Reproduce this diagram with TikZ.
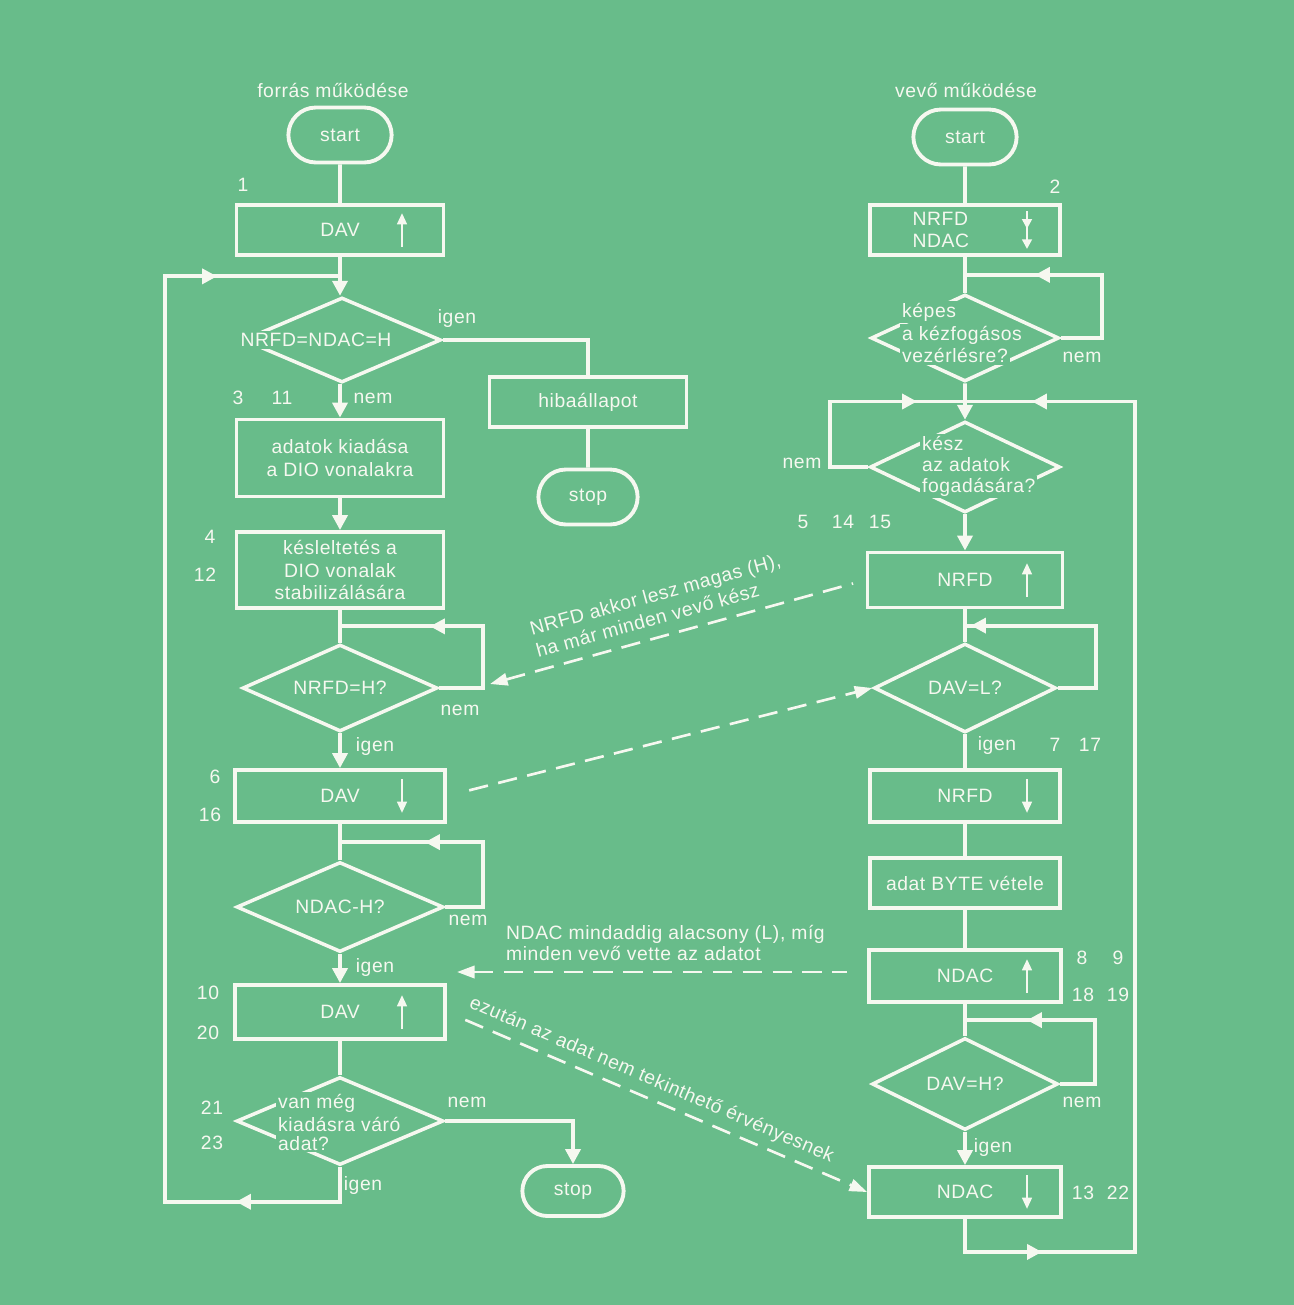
\documentclass[tikz,border=0pt]{standalone}
\usepackage{fontspec}
\setmainfont{Liberation Sans}[LetterSpace=3]
\usetikzlibrary{arrows.meta,shapes.geometric,shapes.misc,decorations.markings,calc}

\definecolor{lapzold}{RGB}{104,188,138}
\definecolor{kreta}{RGB}{246,248,240}
\setlength{\fboxsep}{1pt}
\newcommand{\fed}[1]{\colorbox{lapzold}{#1}}

\begin{document}
\begin{tikzpicture}[x=0.02cm, y=-0.02cm,
		every node/.style={font=\fontsize{11}{13}\selectfont, text=kreta},
		vonal/.style={color=kreta, line width=2.2pt},
		nyil/.style={vonal, -{Triangle[length=8.5pt,width=8.5pt]}},
		hegy/.style={postaction={decorate, decoration={markings,
			mark=at position #1 with {\arrow{Triangle[length=8.5pt,width=8.5pt]}}}}},
		doboz/.style={draw=kreta, line width=2.2pt, minimum width=4.14cm, minimum height=1cm, align=center},
		hatar/.style={rounded rectangle, draw=kreta, line width=2.2pt, minimum width=2.3cm, minimum height=1.1cm},
		dontes/.style={diamond, draw=kreta, line width=2pt, inner sep=0pt, minimum width=4cm, minimum height=1.76cm},
		dszoveg/.style={inner sep=0pt, align=left},
		jel/.style={color=kreta, line width=1.4pt, -{Triangle[length=6.5pt,width=5.5pt]}},
		szaggatott/.style={color=kreta, line width=1.5pt, dash pattern=on 11pt off 6pt}]

	\fill[lapzold] (0,0) rectangle (1294,1305);

	% cimek
	\node (cim1) at (333,90) {forrás működése};
	\node (cim2) at (966,90) {vevő működése};

	% forras oldal
	\node[hatar] (start1) at (340,135) {start};
	\node[doboz] (dav1) at (340,230) {DAV};
	\node[dontes, minimum width=3.96cm, minimum height=1.7cm] (d1) at (342,340) {};
	\node[dszoveg] (t1) at (316,340) {\fed{NRFD=NDAC=H}};
	\node[doboz, minimum width=3.94cm] (hiba) at (588,402) {hibaállapot};
	\node[hatar, minimum width=2.22cm] (stop1) at (588,497) {stop};
	\node[doboz, minimum height=1.54cm] (box2) at (340,458) {adatok kiadása\\a DIO vonalakra};
	\node[doboz, minimum height=1.52cm] (box3) at (340,570) {késleltetés a\\DIO vonalak\\stabilizálására};
	\node[dontes, minimum width=3.9cm, minimum height=1.74cm] (d2) at (340,688) {};
	\node (t2) at (d2) {NRFD=H?};
	\node[doboz, minimum width=4.2cm, minimum height=1.04cm] (dav2) at (340,796) {DAV};
	\node[dontes, minimum width=4.14cm, minimum height=1.8cm] (d3) at (340,907) {};
	\node (t3) at (d3) {NDAC-H?};
	\node[doboz, minimum width=4.2cm, minimum height=1.08cm] (dav3) at (340,1012) {DAV};
	\node[dontes, minimum width=4.14cm, minimum height=1.76cm] (d4) at (340,1121) {};
	\node[dszoveg, anchor=west, font=\fontsize{11}{10.5}\selectfont] (t4) at (276,1122) {\fed{van még}\\\fed{kiadásra váró}\\\fed{adat?}};
	\node[hatar, minimum width=2.26cm, minimum height=1cm] (stop2) at (573,1191) {stop};

	\coordinate (j1) at ($(dav1.south)!.5!(d1.north)$);
	\coordinate (j2) at ($(box3.south)!.5!(d2.north)$);
	\coordinate (j3) at ($(dav2.south)!.5!(d3.north)$);

	\draw[vonal] (start1) -- (dav1);
	\draw[nyil] (dav1) -- (dav1 |- d1.north);
	\draw[vonal] (d1.east) -| (hiba.north);
	\draw[vonal] (hiba) -- (stop1);
	\draw[nyil] (d1.south -| box2) -- (box2);
	\draw[nyil] (box2) -- (box3);
	\draw[vonal] (box3) -- (d2);
	\draw[vonal, hegy=-1.8cm] (d2.east) -- ++(44,0) |- (j2);
	\draw[nyil] (d2) -- (dav2);
	\draw[vonal] (dav2) -- (d3);
	\draw[vonal, hegy=-1.7cm] (d3.east) -- ++(38,0) |- (j3);
	\draw[nyil] (d3) -- (dav3);
	\draw[vonal] (dav3) -- (d4);
	\draw[nyil] (d4.east) -| (stop2.north);
	\draw[vonal, hegy=2.78cm, hegy=-2.48cm] (d4.south) -- ++(0,35) -- ++(-175,0) |- (j1);

	% vevo oldal
	\node[hatar] (start2) at (965,137) {start};
	\node[doboz, minimum width=3.8cm, align=left] (rbox) at (965,230) {NRFD\hspace*{2.5em}\\NDAC\hspace*{2.5em}};
	\node[dontes, minimum width=3.76cm, minimum height=1.74cm] (rd1) at (965,338) {};
	\node[dszoveg, anchor=west] (t5) at (900,333) {\fed{képes}\\\fed{a kézfogásos}\\\fed{vezérlésre?}};
	\node[dontes, minimum width=3.8cm, minimum height=1.82cm] (rd2) at (965,467) {};
	\node[dszoveg, anchor=west, font=\fontsize{11}{12}\selectfont] (t6) at (920,466) {\fed{kész}\\\fed{az adatok}\\\fed{fogadására?}};
	\node[doboz, minimum width=3.9cm, minimum height=1.1cm] (nrfdup) at (965,580) {NRFD};
	\node[dontes, minimum width=3.64cm, minimum height=1.78cm] (rd3) at (965,688) {};
	\node (t7) at (rd3) {DAV=L?};
	\node[doboz, minimum width=3.8cm, minimum height=1.04cm] (nrfddn) at (965,796) {NRFD};
	\node[doboz, minimum width=3.8cm] (byte) at (965,883) {adat BYTE vétele};
	\node[doboz, minimum width=3.84cm, minimum height=1.04cm] (ndacup) at (965,976) {NDAC};
	\node[dontes, minimum width=3.72cm, minimum height=1.84cm] (rd4) at (965,1084) {};
	\node (t8) at (rd4) {DAV=H?};
	\node[doboz, minimum width=3.84cm] (ndacdn) at (965,1192) {NDAC};

	\coordinate (k1) at ($(rbox.south)!.5!(rd1.north)$);
	\coordinate (k2) at ($(rd1.south)!.5!(rd2.north)$);
	\coordinate (k3) at ($(nrfdup.south)!.5!(rd3.north)$);
	\coordinate (k4) at ($(ndacup.south)!.5!(rd4.north)$);

	\draw[vonal] (start2) -- (rbox);
	\draw[vonal] (rbox) -- (rd1);
	\draw[vonal, hegy=-1.4cm] (rd1.east) -- ++(41,0) |- (k1);
	\draw[vonal] (rd1) -- (k2);
	\draw[nyil] (k2) -- (rd2);
	\draw[vonal, hegy=-0.96cm] (rd2.west) -- ++(-38,0) |- (k2);
	\draw[nyil] (rd2) -- (nrfdup);
	\draw[vonal] (nrfdup) -- (rd3);
	\draw[vonal, hegy=-0.12cm] (rd3.east) -- ++(38,0) |- (k3);
	\draw[vonal] (rd3) -- (nrfddn);
	\draw[vonal] (nrfddn) -- (byte);
	\draw[vonal] (byte) -- (ndacup);
	\draw[vonal] (ndacup) -- (rd4);
	\draw[vonal, hegy=-1.24cm] (rd4.east) -- ++(35,0) |- (k4);
	\draw[nyil] (rd4) -- (ndacdn);
	\draw[vonal, hegy=2.2cm, hegy=-1.34cm] (ndacdn.south) -- ++(0,33) -- ++(170,0) |- (k2);

	% jelszintek a dobozokban
	\foreach \n/\d in {dav1/-1, dav2/1, dav3/-1, nrfdup/-1, nrfddn/1, ndacup/-1, ndacdn/1}
		\draw[jel] ($(\n.center)+(62,-17*\d)$) -- ++(0,34*\d);
	\draw[color=kreta, line width=1.4pt, -{Triangle[length=5.5pt,width=5.5pt,sep=6pt]Triangle[length=5.5pt,width=5.5pt]}]
		($(rbox.center)+(62,-19)$) -- ++(0,38);

	% szaggatott kapcsolatok
	\coordinate (c1) at (490,684);
	\draw[szaggatott, {Triangle[length=10pt,width=7pt]}-, shorten >=0.26cm] (c1) --
		node[pos=.47, above=3pt, sloped, align=left] (s1) {NRFD akkor lesz magas (H),\\ha már minden vevő kész} (nrfdup.west);
	\draw[szaggatott, -{Triangle[length=10pt,width=7pt]}, shorten <=0.46cm] (dav2.east) -- (rd3.west);
	\coordinate (c2) at (457,972);
	\draw[szaggatott, {Triangle[length=10pt,width=7pt]}-, shorten >=0.4cm] (c2) -- (c2 -| ndacup.west);
	\node[anchor=west, align=left, font=\fontsize{11}{11.5}\selectfont] (s3) at (500,943) {NDAC mindaddig alacsony (L), míg\\minden vevő vette az adatot};
	\draw[szaggatott, -{Triangle[length=10pt,width=7pt]}, shorten <=0.4cm] (dav3.east) --
		node[pos=.47, above=1pt, sloped] (s4) {ezután az adat nem tekinthető érvényesnek} (ndacdn.west);

	% szamok es feliratok
	\foreach \t/\x/\y [count=\i] in {1/243/185, 3/238/398, 11/282/398, nem/373/398, igen/457/318,
			4/210/537, 12/205/575, nem/460/710, igen/375/746, 6/215/777, 16/210/815,
			nem/468/920, igen/375/967, 10/208/993, 20/208/1033, 21/212/1108, 23/212/1143,
			nem/467/1102, igen/363/1185, 2/1055/187, nem/1082/357, nem/802/463,
			5/803/522, 14/843/522, 15/880/522, igen/997/745, 7/1055/745, 17/1090/745,
			8/1082/958, 9/1118/958, 18/1083/995, 19/1118/995, nem/1082/1102,
			igen/993/1147, 13/1083/1193, 22/1118/1193}
		\node (sz\i) at (\x,\y) {\t};

\end{tikzpicture}
\end{document}
